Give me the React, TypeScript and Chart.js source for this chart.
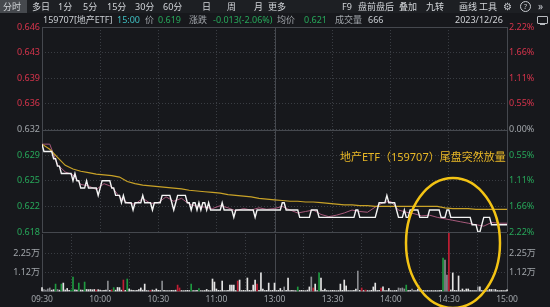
import React, { useEffect, useRef } from 'react';
import { Chart, registerables } from 'chart.js';
Chart.register(...registerables);

// ---------- data ----------
const prevClose = 0.632;
const priceMin = 0.618;
const priceMax = 0.646;
const priceTicks = [0.618, 0.6215, 0.625, 0.6285, 0.632, 0.6355, 0.639, 0.6425, 0.646];
const priceTickLabels = ['0.618', '0.622', '0.625', '0.629', '0.632', '0.636', '0.639', '0.643', '0.646'];
const pctTickLabels = ['2.22%', '1.66%', '1.11%', '0.55%', '0.00%', '0.55%', '1.11%', '1.66%', '2.22%'];
const timeTicks = [0, 30, 60, 90, 120, 150, 180, 210, 240];
const timeLabels = ['09:30', '10:00', '10:30', '11:00', '13:00', '13:30', '14:00', '14:30', '15:00'];
const middayMinute = 120;
const lastMinute = 240;
const volMax = 33750;
const volTicks = [11250, 22500];
const volTickLabels = ['1.12万', '2.25万'];

// one price per minute (241 minutes)
const prices = [
  0.630, 0.629, 0.629, 0.629, 0.629, 0.629, 0.628, 0.628, 0.627, 0.627,
  0.626, 0.626, 0.626, 0.626, 0.626, 0.626, 0.625, 0.626, 0.625, 0.625,
  0.624, 0.624, 0.624, 0.625, 0.624, 0.624, 0.624, 0.624, 0.624, 0.623,
  0.624, 0.625, 0.625, 0.625, 0.625, 0.625, 0.624, 0.624, 0.623, 0.623,
  0.623, 0.622, 0.623, 0.622, 0.622, 0.622, 0.622, 0.621, 0.622, 0.622,
  0.622, 0.622, 0.623, 0.622, 0.622, 0.622, 0.622, 0.621, 0.622, 0.622,
  0.622, 0.622, 0.623, 0.623, 0.623, 0.623, 0.623, 0.622, 0.621, 0.622,
  0.623, 0.623, 0.623, 0.623, 0.623, 0.622, 0.622, 0.621, 0.622, 0.622,
  0.621, 0.622, 0.621, 0.622, 0.622, 0.621, 0.622, 0.621, 0.621, 0.621,
  0.621, 0.621, 0.621, 0.622, 0.621, 0.621, 0.621, 0.621, 0.621, 0.620,
  0.621, 0.621, 0.621, 0.621, 0.621, 0.621, 0.621, 0.621, 0.621, 0.621,
  0.620, 0.621, 0.621, 0.621, 0.621, 0.621, 0.621, 0.621, 0.621, 0.621,
  0.621, 0.621, 0.621, 0.621, 0.622, 0.622, 0.621, 0.621, 0.621, 0.621,
  0.621, 0.621, 0.621, 0.620, 0.620, 0.620, 0.620, 0.620, 0.620, 0.621,
  0.621, 0.621, 0.621, 0.620, 0.620, 0.620, 0.620, 0.620, 0.620, 0.620,
  0.620, 0.620, 0.620, 0.620, 0.620, 0.620, 0.620, 0.620, 0.620, 0.620,
  0.620, 0.620, 0.621, 0.621, 0.620, 0.620, 0.620, 0.620, 0.620, 0.620,
  0.620, 0.620, 0.620, 0.621, 0.622, 0.622, 0.622, 0.622, 0.623, 0.622,
  0.622, 0.622, 0.622, 0.621, 0.620, 0.620, 0.620, 0.621, 0.620, 0.620,
  0.621, 0.621, 0.621, 0.621, 0.621, 0.620, 0.620, 0.620, 0.620, 0.620,
  0.621, 0.621, 0.621, 0.621, 0.621, 0.621, 0.620, 0.620, 0.620, 0.621,
  0.621, 0.620, 0.620, 0.620, 0.620, 0.620, 0.620, 0.620, 0.620, 0.620,
  0.620, 0.620, 0.619, 0.619, 0.619, 0.618, 0.618, 0.619, 0.620, 0.620,
  0.620, 0.620, 0.619, 0.619, 0.619, 0.619, 0.619, 0.619, 0.619, 0.619,
  0.619,
];

// average price / reference value, sampled every 4 minutes
const auxMinutes = [
  0, 4, 8, 12, 16, 20, 24, 28, 32, 36, 40, 44, 48, 52, 56, 60, 64, 68, 72, 76,
  80, 84, 88, 92, 96, 100, 104, 108, 112, 116, 120, 124, 128, 132, 136, 140, 144, 148, 152, 156,
  160, 164, 168, 172, 176, 180, 184, 188, 192, 196, 200, 204, 208, 212, 216, 220, 224, 228, 232, 236,
  240,
];
const avgPrices = [
  0.6300, 0.6293, 0.6282, 0.6271, 0.6266, 0.6263, 0.6261, 0.6259, 0.6258, 0.6257,
  0.6255, 0.6249, 0.6246, 0.6244, 0.6243, 0.6242, 0.6241, 0.6240, 0.6239, 0.6237,
  0.6236, 0.6235, 0.6234, 0.6233, 0.6231, 0.6230, 0.6229, 0.6228, 0.6226, 0.6225,
  0.6224, 0.6223, 0.6222, 0.6222, 0.6221, 0.6221, 0.6220, 0.6219, 0.6218, 0.6217,
  0.6217, 0.6216, 0.6216, 0.6215, 0.6215, 0.6215, 0.6215, 0.6215, 0.6215, 0.6215,
  0.6215, 0.6215, 0.6213, 0.6212, 0.6212, 0.6212, 0.6211, 0.6211, 0.6211, 0.6211,
  0.6211,
];
const navPrices = [
  0.6300, 0.6300, 0.6272, 0.6262, 0.6258, 0.6245, 0.6243, 0.6238, 0.6246, 0.6242,
  0.6228, 0.6220, 0.6218, 0.6226, 0.6219, 0.6220, 0.6228, 0.6222, 0.6226, 0.6218,
  0.6215, 0.6214, 0.6212, 0.6216, 0.6213, 0.6209, 0.6212, 0.6210, 0.6213, 0.6211,
  0.6212, 0.6215, 0.6210, 0.6206, 0.6208, 0.6210, 0.6204, 0.6201, 0.6203, 0.6206,
  0.6210, 0.6208, 0.6207, 0.6214, 0.6220, 0.6222, 0.6210, 0.6207, 0.6205, 0.6202,
  0.6203, 0.6200, 0.6198, 0.6196, 0.6194, 0.6192, 0.6190, 0.6188, 0.6193, 0.6192,
  0.6192,
];

// volume per minute
const volumes = [
  2000, 900, 600, 1200, 1800, 500, 800, 4100, 900, 500,
  4100, 4700, 600, 1500, 400, 600, 8300, 700, 500, 4700,
  600, 500, 5300, 900, 800, 900, 700, 900, 600, 800,
  500, 300, 400, 600, 5900, 400, 700, 2000, 500, 2100,
  2000, 500, 6500, 400, 7100, 1200, 500, 400, 300, 400,
  800, 1800, 500, 4100, 300, 200, 400, 600, 300, 1200,
  400, 300, 5900, 400, 300, 200, 300, 400, 300, 500,
  3500, 1800, 300, 200, 300, 400, 300, 4100, 300, 200,
  400, 1500, 300, 200, 300, 900, 300, 200, 7100, 5300,
  1200, 400, 300, 5900, 300, 200, 400, 3500, 3500, 3500,
  300, 5900, 6500, 300, 400, 300, 7700, 400, 300, 3500,
  6500, 4100, 400, 10700, 1200, 300, 400, 4700, 300, 400,
  4700, 300, 400, 1500, 300, 2400, 400, 7700, 300, 400,
  300, 200, 2400, 300, 400, 300, 200, 500, 2400, 8300,
  1800, 4100, 300, 10700, 7700, 400, 1200, 300, 200, 300,
  400, 300, 200, 300, 4100, 400, 6500, 3000, 300, 200,
  300, 400, 1200, 11800, 400, 1800, 300, 600, 300, 200,
  400, 2400, 4700, 300, 400, 1800, 2400, 300, 200, 1500,
  300, 200, 300, 400, 1800, 1500, 1800, 1200, 3500, 300,
  400, 1200, 300, 200, 1200, 300, 200, 300, 200, 300,
  200, 300, 200, 300, 200, 300, 400, 19500, 18300, 9500,
  80000, 600, 10700, 400, 300, 8900, 300, 1200, 300, 1200,
  1200, 300, 200, 300, 200, 2400, 2400, 300, 200, 300,
  200, 900, 900, 900, 900, 300, 200, 300, 200, 300,
  666,
];
// r = up (red), g = down (green), w = white, s = grey ; groups of 10 minutes
const volColorCodes =
  'wsssswwgsw gwwwwggwwg wwgwwwwwrw wwwwswrgww wwrwgwwwww wwwwwwrwww wwswwwwwww rrwwwwwgww ' +
  'wgwwwwwwww wwwwwwwwww wrwwwwwwww wrwwwwwwww wwwwwswwww wwgwwwwwws rwwgwwwwww wwwwwwwwww ' +
  'wwwswrwrww wwwwwrwwww wwwwssssgw wswwwwwwww wwwwwwwgss rwwwwwwwww wwwwwswwww wwwswwwwww w';

// ---------- style ----------
const BG = '#17181c';
const DOT = '#3a3d43';
const SOLID = '#45484e';
const RED = '#d8344c';
const GREEN = '#27a85a';
const GREY = '#a2a6ab';
const FONT = "'Noto Sans', 'Noto Sans CJK SC', sans-serif";
const BAR_COLORS: Record<string, string> = { r: '#c41e34', g: '#1f9a40', w: '#e4e4e4', s: '#8a8c90' };

const tickColor = (i: number) => (i < 4 ? GREEN : i === 4 ? GREY : RED);

function framePlugin(kind: 'price' | 'vol') {
  return {
    id: 'frame-' + kind,
    beforeDatasetsDraw(chart: any) {
      const { ctx, chartArea: a, scales } = chart;
      const px = (v: number) => Math.round(v) + 0.5;
      ctx.save();
      ctx.strokeStyle = SOLID;
      ctx.lineWidth = 1;
      ctx.setLineDash([]);
      ctx.beginPath();
      const xl = px(scales.x.getPixelForValue(0));
      const xr = px(scales.x.getPixelForValue(lastMinute));
      const xm = px(scales.x.getPixelForValue(middayMinute));
      ctx.moveTo(xl, a.top); ctx.lineTo(xl, a.bottom);
      ctx.moveTo(xr, a.top); ctx.lineTo(xr, a.bottom);
      ctx.moveTo(xm, a.top); ctx.lineTo(xm, a.bottom);
      if (kind === 'price') {
        const ys = [priceMax, prevClose, priceMin].map((v) => px(scales.y.getPixelForValue(v)));
        ys.forEach((y) => { ctx.moveTo(a.left, y); ctx.lineTo(a.right, y); });
      } else {
        const yb = px(scales.yv.getPixelForValue(0));
        ctx.moveTo(a.left, yb); ctx.lineTo(a.right, yb);
      }
      ctx.stroke();
      ctx.restore();
    },
  };
}

const tabs: [string, number][] = [
  ['分时', 3], ['多日', 32], ['1分', 58], ['5分', 83], ['15分', 107], ['30分', 135], ['60分', 163],
  ['日', 202], ['周', 227], ['月', 254], ['更多', 268],
];
const rightTabs: [string, number][] = [
  ['F9', 342], ['盘前盘后', 358], ['叠加', 399], ['九转', 426], ['画线', 459], ['工具', 479],
];
const infoItems: [string, number, string][] = [
  ['159707[地产ETF]', 43, '#c9cdd2'], ['15:00', 117, '#3fbfc2'], ['价', 145, GREY], ['0.619', 158, GREEN],
  ['涨跌', 189, GREY], ['-0.013(-2.06%)', 213, GREEN], ['均价', 277, GREY], ['0.621', 304, GREEN],
  ['成交量', 335, GREY], ['666', 368, '#c9cdd2'], ['2023/12/26', 455, '#d0d2d6'],
];

export default function App() {
  const priceRef = useRef<HTMLCanvasElement>(null);
  const volRef = useRef<HTMLCanvasElement>(null);

  useEffect(() => {
    const font = { family: FONT, size: 9 };
    const xCommon = {
      type: 'linear' as const,
      min: 0,
      max: lastMinute,
      afterBuildTicks: (s: any) => { s.ticks = timeTicks.map((v) => ({ value: v })); },
      grid: { color: DOT, drawTicks: false },
      border: { display: false, dash: [1, 2] },
    };
    const priceChart = new Chart(priceRef.current!, {
      type: 'line',
      data: {
        datasets: [
          { label: 'price', data: prices.map((p, i) => ({ x: i, y: p })), borderColor: '#f4f4f4', borderWidth: 1.4, pointRadius: 0, order: 1 },
          { label: 'avg', data: auxMinutes.map((m, i) => ({ x: m, y: avgPrices[i] })), borderColor: '#c9a227', borderWidth: 1.2, pointRadius: 0, order: 2 },
          { label: 'nav', data: auxMinutes.map((m, i) => ({ x: m, y: navPrices[i] })), borderColor: '#a85a7c', borderWidth: 1, pointRadius: 0, order: 3 },
        ],
      },
      options: {
        animation: false,
        responsive: false,
        events: [],
        layout: { padding: { top: 27, bottom: 10, left: 0, right: 0 } },
        plugins: { legend: { display: false }, tooltip: { enabled: false } },
        scales: {
          x: { ...xCommon, ticks: { display: false }, afterFit: (s: any) => { s.height = 0; } },
          y: {
            position: 'left', min: priceMin, max: priceMax,
            afterBuildTicks: (s: any) => { s.ticks = priceTicks.map((v) => ({ value: v })); },
            ticks: { callback: (_v: any, i: number) => priceTickLabels[i], color: (c: any) => tickColor(c.index), font, padding: 2 },
            grid: { color: DOT, drawTicks: false },
            border: { display: false, dash: [1, 2] },
            afterFit: (s: any) => { s.width = 42; },
          },
          yp: {
            position: 'right', min: priceMin, max: priceMax,
            afterBuildTicks: (s: any) => { s.ticks = priceTicks.map((v) => ({ value: v })); },
            ticks: { callback: (_v: any, i: number) => pctTickLabels[i], color: (c: any) => tickColor(c.index), font, padding: 2 },
            grid: { display: false, drawTicks: false },
            border: { display: false },
            afterFit: (s: any) => { s.width = 43; },
          },
        },
      } as any,
      plugins: [framePlugin('price')],
    });

    const codes = volColorCodes.replace(/ /g, '');
    const volChart = new Chart(volRef.current!, {
      type: 'bar',
      data: {
        datasets: [
          {
            label: 'vol',
            data: volumes.map((v, i) => ({ x: i, y: v })),
            backgroundColor: volumes.map((_v, i) => BAR_COLORS[codes[i]] || BAR_COLORS.w),
            barThickness: 1,
            clip: 2,
            yAxisID: 'yv',
          } as any,
        ],
      },
      options: {
        animation: false,
        responsive: false,
        events: [],
        layout: { padding: { top: 10, bottom: 0, left: 0, right: 0 } },
        plugins: { legend: { display: false }, tooltip: { enabled: false } },
        scales: {
          x: {
            ...xCommon,
            offset: false,
            ticks: { callback: (_v: any, i: number) => timeLabels[i], color: GREY, font: { family: FONT, size: 8.5 }, padding: 3, autoSkip: false, maxRotation: 0 },
            afterFit: (s: any) => { s.height = 16; },
          },
          yv: {
            position: 'left', min: 0, max: volMax,
            afterBuildTicks: (s: any) => { s.ticks = volTicks.map((v) => ({ value: v })); },
            ticks: { callback: (_v: any, i: number) => volTickLabels[i], color: GREY, font, padding: 2 },
            grid: { color: DOT, drawTicks: false },
            border: { display: false, dash: [1, 2] },
            afterFit: (s: any) => { s.width = 42; },
          },
          yvr: {
            position: 'right', min: 0, max: volMax,
            afterBuildTicks: (s: any) => { s.ticks = volTicks.map((v) => ({ value: v })); },
            ticks: { callback: (_v: any, i: number) => volTickLabels[i], color: GREY, font, padding: 2 },
            grid: { display: false, drawTicks: false },
            border: { display: false },
            afterFit: (s: any) => { s.width = 43; },
          },
        },
      } as any,
      plugins: [framePlugin('vol')],
    });

    return () => { priceChart.destroy(); volChart.destroy(); };
  }, []);

  const textBase: React.CSSProperties = { position: 'absolute', fontFamily: FONT, whiteSpace: 'nowrap' };

  return (
    <div style={{ position: 'fixed', left: 0, top: 0, width: 550, height: 307, background: BG, overflow: 'hidden' }}>
      <canvas ref={volRef} width={550} height={83} style={{ position: 'absolute', left: 0, top: 224, width: 550, height: 83 }} />
      <canvas ref={priceRef} width={550} height={242} style={{ position: 'absolute', left: 0, top: 0, width: 550, height: 242 }} />
      {/* top tab bar */}
      <div style={{ position: 'absolute', left: 0, top: 0, width: 550, height: 13, background: '#1d1f23' }} />
      <div style={{ position: 'absolute', left: 0, top: 0, width: 27, height: 13, background: '#46494e' }} />
      {tabs.map(([t, x]) => (
        <span key={t} style={{ ...textBase, left: x, top: 0, fontSize: 9, lineHeight: '13px', color: '#d2d5d9' }}>{t}</span>
      ))}
      {rightTabs.map(([t, x]) => (
        <span key={t} style={{ ...textBase, left: x, top: 0, fontSize: 9, lineHeight: '13px', color: '#d2d5d9' }}>{t}</span>
      ))}
      <span style={{ ...textBase, left: 503, top: 0, fontSize: 10, lineHeight: '13px', color: '#c8cbd0' }}>⚙</span>
      <span style={{ ...textBase, left: 520, top: 1, width: 9, height: 9, border: '1px solid #c8cbd0', borderRadius: '50%', fontSize: 7.5, lineHeight: '9px', textAlign: 'center', color: '#c8cbd0' }}>?</span>
      <span style={{ ...textBase, left: 538, top: 0, fontSize: 10, lineHeight: '12px', color: '#c8cbd0' }}>»</span>
      {/* info row */}
      {infoItems.map(([t, x, c]) => (
        <span key={t + x} style={{ ...textBase, left: x, top: 13, fontSize: 9, lineHeight: '14px', color: c }}>{t}</span>
      ))}
      <div style={{ position: 'absolute', left: 537, top: 16, width: 9, height: 6, border: '1px solid #b8bbc0', borderRadius: 1 }} />
      <div style={{ position: 'absolute', left: 540, top: 24, width: 5, height: 1, background: '#b8bbc0' }} />
      {/* annotation */}
      <span style={{ ...textBase, left: 340, top: 149, fontSize: 11, lineHeight: '15px', color: '#e9b826' }}>地产ETF（159707）尾盘突然放量</span>
      <svg width={550} height={307} style={{ position: 'absolute', left: 0, top: 0, pointerEvents: 'none' }}>
        <ellipse cx={453} cy={243} rx={47} ry={65} fill="none" stroke="#f3c314" strokeWidth={2.5} />
      </svg>
    </div>
  );
}
